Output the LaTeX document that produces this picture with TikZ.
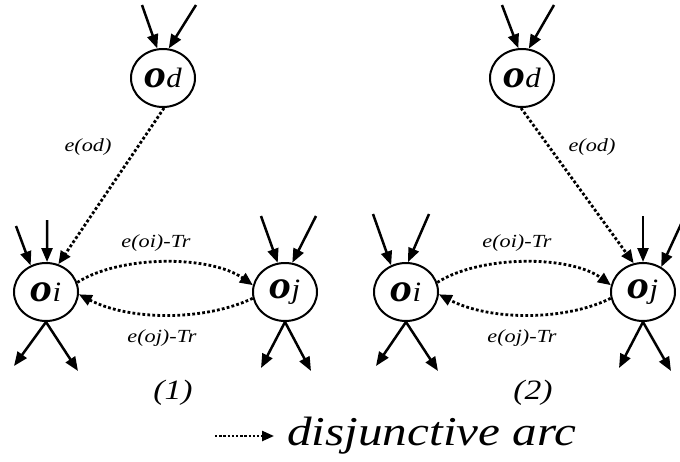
\documentclass[tikz,border=0pt]{standalone}
\usepackage{fontspec}
\setmainfont{Liberation Serif}
\newfontfamily\widefont[FakeStretch=1.2]{Liberation Serif}
\newfontfamily\objfont[FakeStretch=1.1]{Liberation Serif}
\usetikzlibrary{arrows.meta,shapes.geometric}
\tikzset{
  obj/.style={draw,ellipse,line width=2pt,minimum width=64pt,minimum height=58pt,inner sep=0pt},
  solidarr/.style={line width=2.5pt,-{Triangle[length=14pt,width=11pt]}},
  dotarr/.style={line width=2.8pt,dash pattern=on 2.8pt off 2.2pt,-{Triangle[length=13pt,width=11pt]}},
  elab/.style={font=\widefont\fontsize{18.5}{18.5}\selectfont\itshape},
  plab/.style={font=\widefont\fontsize{28}{28}\selectfont\itshape},
}
\newcommand{\objtext}[1]{{\objfont\fontsize{40}{40}\selectfont\bfseries\itshape o}{\objfont\fontsize{28}{28}\selectfont\itshape #1}}
\begin{document}
\begin{tikzpicture}[x=1pt,y=-1pt]
\useasboundingbox (0,0) rectangle (680,461);
% ---------- panel (1)
\node[obj] (Od1) at (163,78) {\objtext{d}};
\node[obj] (Oi1) at (46,292) {\objtext{i}};
\node[obj] (Oj1) at (285,292) {\objtext{j}};
\coordinate (a1) at (142,5);
\coordinate (a2) at (196,5);
\draw[solidarr] (a1) -- (Od1.101);
\draw[solidarr] (a2) -- (Od1.79);
\coordinate (b1) at (16,226);
\coordinate (b2) at (47,220);
\draw[solidarr] (b1) -- (Oi1.120);
\draw[solidarr] (b2) -- (Oi1.88);
\coordinate (c1) at (261,216);
\coordinate (c2) at (316,216);
\draw[solidarr] (c1) -- (Oj1.104);
\draw[solidarr] (c2) -- (Oj1.76);
\coordinate (d1) at (14,366);
\coordinate (d2) at (78,371);
\draw[solidarr] (Oi1.south) -- (d1);
\draw[solidarr] (Oi1.south) -- (d2);
\coordinate (e1) at (261,368);
\coordinate (e2) at (311,371);
\draw[solidarr] (Oj1.south) -- (e1);
\draw[solidarr] (Oj1.south) -- (e2);
\draw[dotarr] (Od1.272) -- (Oi1.66);
\draw[dotarr] (Oi1.17) .. controls (120,255) and (210,255) .. (Oj1.168);
\draw[dotarr] (Oj1.191) .. controls (205,321) and (130,321) .. (Oi1.356);
\node[elab] (l1) at (88,147) {e(od)};
\node[elab] (l2) at (156,243) {e(oi)-Tr};
\node[elab] (l3) at (162,338) {e(oj)-Tr};
\node[plab] (p1) at (173,393) {(1)};
% ---------- panel (2)
\node[obj] (Od2) at (522,78) {\objtext{d}};
\node[obj] (Oi2) at (406,292) {\objtext{i}};
\node[obj] (Oj2) at (643,292) {\objtext{j}};
\coordinate (f1) at (502,5);
\coordinate (f2) at (554,5);
\draw[solidarr] (f1) -- (Od2.97);
\draw[solidarr] (f2) -- (Od2.77);
\coordinate (g1) at (373,214);
\coordinate (g2) at (429,214);
\draw[solidarr] (g1) -- (Oi2.119);
\draw[solidarr] (g2) -- (Oi2.86);
\coordinate (h1) at (643,216);
\coordinate (h2) at (682,222);
\draw[solidarr] (h1) -- (Oj2.90);
\draw[solidarr] (h2) -- (Oj2.54);
\coordinate (k1) at (376,366);
\coordinate (k2) at (438,371);
\draw[solidarr] (Oi2.south) -- (k1);
\draw[solidarr] (Oi2.south) -- (k2);
\coordinate (m1) at (619,368);
\coordinate (m2) at (671,371);
\draw[solidarr] (Oj2.south) -- (m1);
\draw[solidarr] (Oj2.south) -- (m2);
\draw[dotarr] (Od2.268) -- (Oj2.108);
\draw[dotarr] (Oi2.17) .. controls (480,255) and (570,255) .. (Oj2.168);
\draw[dotarr] (Oj2.191) .. controls (565,321) and (490,321) .. (Oi2.356);
\node[elab] (r1) at (592,147) {e(od)};
\node[elab] (r2) at (517,243) {e(oi)-Tr};
\node[elab] (r3) at (522,338) {e(oj)-Tr};
\node[plab] (p2) at (533,393) {(2)};
% ---------- legend
\coordinate (leg1) at (215,436);
\coordinate (leg2) at (274,436);
\node[anchor=west,inner sep=0pt,font=\widefont\fontsize{41}{41}\selectfont\itshape] (legt) at (287,436) {disjunctive arc};
\draw[line width=2.4pt,dash pattern=on 2.4pt off 1.8pt,-{Triangle[length=12pt,width=10pt]}] (leg1) -- (leg2);
\end{tikzpicture}
\end{document}
